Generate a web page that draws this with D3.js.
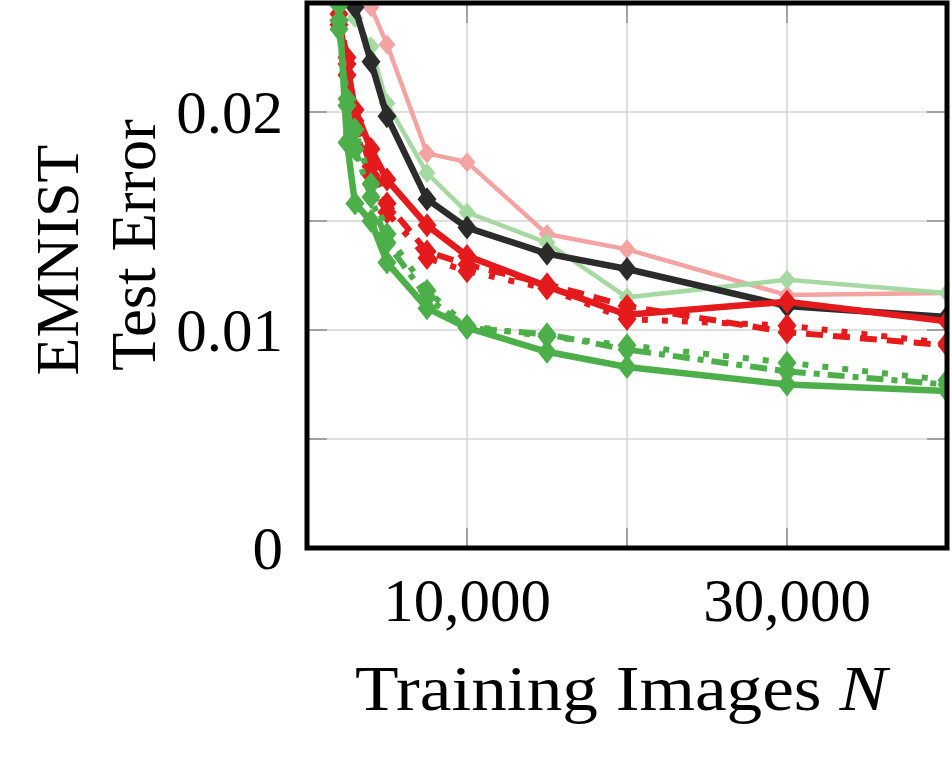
<!DOCTYPE html>
<meta charset="utf-8">
<style>
  body { margin: 0; background: #fff; }
  text { font-family: "Liberation Serif", "DejaVu Serif", serif; fill: #000; }
</style>
<body>
<script src="https://cdn.jsdelivr.net/npm/d3@7/dist/d3.min.js"></script>
<script>

    // training set sizes
    var sizes = [2000, 2500, 3000, 4000, 5000, 7500, 10000, 15000, 20000, 30000, 40000];

    // test error per series (values above 0.025 are cut off by the plot frame)
    var pinkThin   = [0.0330, 0.0300, 0.0275, 0.0248, 0.0231, 0.0181, 0.0177, 0.0144, 0.0137, 0.0116, 0.0117];
    var greenThin  = [0.0290, 0.0265, 0.0243, 0.0230, 0.0204, 0.0172, 0.0154, 0.0140, 0.0115, 0.0123, 0.0117];
    var blackThick = [0.0300, 0.0270, 0.0248, 0.0223, 0.0198, 0.0160, 0.0147, 0.0135, 0.0128, 0.0111, 0.0106];
    var redDotted  = [0.0240, 0.0217, 0.0192, 0.0171, 0.0154, 0.0133, 0.0127, 0.0119, 0.0105, 0.0102, 0.0094];
    var redDashed  = [0.0245, 0.0225, 0.0196, 0.0175, 0.0158, 0.0136, 0.0130, 0.0121, 0.0111, 0.0099, 0.0093];
    var redSolid   = [0.0242, 0.0222, 0.0201, 0.0183, 0.0169, 0.0148, 0.0134, 0.0120, 0.0107, 0.0113, 0.0104];
    var greenDot   = [0.0242, 0.0206, 0.0192, 0.0167, 0.0144, 0.0118, 0.0102, 0.0097, 0.0093, 0.0085, 0.0077];
    var greenDashDot = [0.0238, 0.0203, 0.0183, 0.0161, 0.0140, 0.0115, 0.0101, 0.0098, 0.0091, 0.0081, 0.0075];
    var greenSolid = [0.0249, 0.0186, 0.0158, 0.0150, 0.0131, 0.0110, 0.0101, 0.0090, 0.0083, 0.0075, 0.0072];

    var xTicks = [10000, 20000, 30000];
    var xTickLabels = ["10,000", "", "30,000"];
    var yTicks = [0, 0.005, 0.01, 0.015, 0.02];
    var yTickLabels = ["0", "", "0.01", "", "0.02"];

    var series = [
        {values: pinkThin,     color: "#f4a3a3", width: 4.5, dash: null,        mw: 8.5, mh: 10},
        {values: greenThin,    color: "#a6d9a2", width: 4.5, dash: null,        mw: 8.5, mh: 10},
        {values: blackThick,   color: "#2b2b2b", width: 6.5, dash: null,        mw: 9.5, mh: 12},
        {values: redDotted,    color: "#e41a1c", width: 6,   dash: "6,14",      mw: 9.5, mh: 12},
        {values: redDashed,    color: "#e41a1c", width: 6,   dash: "17,10",     mw: 9.5, mh: 12},
        {values: redSolid,     color: "#e41a1c", width: 6.5, dash: null,        mw: 9.5, mh: 12},
        {values: greenDot,     color: "#4daf4a", width: 6,   dash: "6,14",      mw: 9.5, mh: 12},
        {values: greenDashDot, color: "#4daf4a", width: 6,   dash: "17,8,6,8",  mw: 9.5, mh: 12},
        {values: greenSolid,   color: "#4daf4a", width: 6.5, dash: null,        mw: 9.5, mh: 12}
    ];

    var w = 952, h = 758;
    var pLeft = 307, pRight = 947, pTop = 3, pBottom = 548;

    var x = d3.scaleLinear().domain([0, 40000]).range([pLeft, pRight]);
    var y = d3.scaleLinear().domain([0, 0.025]).range([pBottom, pTop]);

    var svg = d3.select("body")
            .append("svg")
            .attr("width", w)
            .attr("height", h);

    svg.append("clipPath").attr("id", "plot")
        .append("rect")
        .attr("x", pLeft).attr("y", pTop)
        .attr("width", pRight - pLeft).attr("height", pBottom - pTop);

    // grid
    svg.append("g").selectAll("line")
        .data(xTicks)
        .enter().append("line")
        .attr("x1", function(d) { return x(d); })
        .attr("x2", function(d) { return x(d); })
        .attr("y1", pTop).attr("y2", pBottom)
        .attr("stroke", "#d4d4d4").attr("stroke-width", 1.5);

    svg.append("g").selectAll("line")
        .data(yTicks.slice(1))
        .enter().append("line")
        .attr("x1", pLeft).attr("x2", pRight)
        .attr("y1", function(d) { return y(d); })
        .attr("y2", function(d) { return y(d); })
        .attr("stroke", "#d4d4d4").attr("stroke-width", 1.5);

    // inward tick marks on all four sides
    var tickLen = 20;
    var ticks = svg.append("g").attr("stroke", "#8c8c8c").attr("stroke-width", 1.5);
    xTicks.forEach(function(t) {
        ticks.append("line").attr("x1", x(t)).attr("x2", x(t)).attr("y1", pBottom).attr("y2", pBottom - tickLen);
        ticks.append("line").attr("x1", x(t)).attr("x2", x(t)).attr("y1", pTop).attr("y2", pTop + tickLen);
    });
    yTicks.slice(1).forEach(function(t) {
        ticks.append("line").attr("x1", pLeft).attr("x2", pLeft + tickLen).attr("y1", y(t)).attr("y2", y(t));
        ticks.append("line").attr("x1", pRight).attr("x2", pRight - tickLen).attr("y1", y(t)).attr("y2", y(t));
    });

    // lines and diamond markers
    var line = d3.line()
            .x(function(d, i) { return x(sizes[i]); })
            .y(function(d) { return y(d); });

    var marks = svg.append("g").attr("clip-path", "url(#plot)");

    series.forEach(function(s) {
        var g = marks.append("g");
        g.append("path")
            .attr("d", line(s.values))
            .attr("fill", "none")
            .attr("stroke", s.color)
            .attr("stroke-width", s.width)
            .attr("stroke-linejoin", "miter")
            .attr("stroke-dasharray", s.dash);

        g.selectAll("path.m")
            .data(s.values)
            .enter().append("path")
            .attr("class", "m")
            .attr("d", function(d, i) {
                var cx = x(sizes[i]), cy = y(d);
                return "M" + cx + "," + (cy - s.mh) + "L" + (cx + s.mw) + "," + cy +
                       "L" + cx + "," + (cy + s.mh) + "L" + (cx - s.mw) + "," + cy + "Z";
            })
            .attr("fill", s.color);
    });

    // frame
    svg.append("rect")
        .attr("x", pLeft).attr("y", pTop)
        .attr("width", pRight - pLeft).attr("height", pBottom - pTop)
        .attr("fill", "none")
        .attr("stroke", "#000")
        .attr("stroke-width", 5);

    // tick labels
    svg.append("g").selectAll("text")
        .data(yTicks)
        .enter().append("text")
        .attr("x", 283)
        .attr("y", function(d) { return y(d) + 21; })
        .attr("text-anchor", "end")
        .attr("font-size", 61)
        .text(function(d, i) { return yTickLabels[i]; });

    svg.append("g").selectAll("text")
        .data(xTicks)
        .enter().append("text")
        .attr("x", function(d) { return x(d); })
        .attr("y", 621)
        .attr("text-anchor", "middle")
        .attr("font-size", 61)
        .text(function(d, i) { return xTickLabels[i]; });

    // axis titles
    var xt = svg.append("text")
        .attr("x", 355)
        .attr("y", 710)
        .attr("font-size", 63)
        .attr("textLength", 532)
        .attr("lengthAdjust", "spacingAndGlyphs");
    xt.append("tspan").text("Training Images ");
    xt.append("tspan").attr("font-style", "italic").text("N");

    svg.append("text")
        .attr("transform", "translate(78,260) rotate(-90)")
        .attr("text-anchor", "middle")
        .attr("font-size", 62)
        .text("EMNIST");

    svg.append("text")
        .attr("transform", "translate(155,245) rotate(-90)")
        .attr("text-anchor", "middle")
        .attr("font-size", 63)
        .attr("textLength", 252)
        .attr("lengthAdjust", "spacingAndGlyphs")
        .text("Test Error");

</script>
